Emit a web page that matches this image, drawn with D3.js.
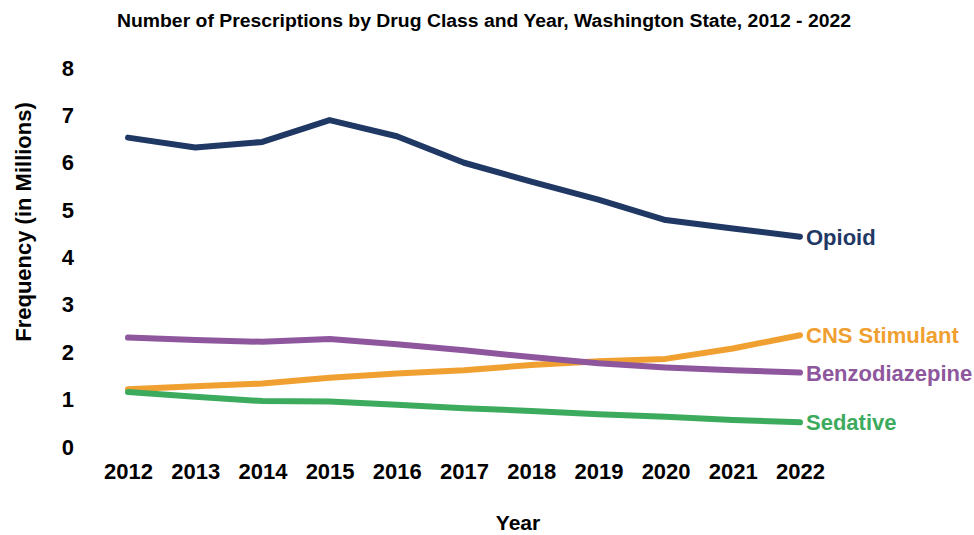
<!DOCTYPE html>
<html>
<head>
<script src="https://d3js.org/d3.v7.min.js"></script>
<style>
  body { margin: 0; background: #fff; }
  text { font-family: "Liberation Sans", Arial, sans-serif; font-weight: bold; }
</style>
</head>
<body>
<div id="chart"></div>
<script>
// data (millions of prescriptions)
var years = [2012, 2013, 2014, 2015, 2016, 2017, 2018, 2019, 2020, 2021, 2022];
var opioid = [6.53, 6.32, 6.44, 6.90, 6.56, 6.00, 5.60, 5.22, 4.79, 4.61, 4.44];
var benzodiazepine = [2.31, 2.26, 2.22, 2.28, 2.17, 2.04, 1.90, 1.77, 1.68, 1.62, 1.57];
var cnsStimulant = [1.22, 1.28, 1.34, 1.46, 1.55, 1.62, 1.73, 1.81, 1.86, 2.08, 2.36];
var sedative = [1.16, 1.06, 0.97, 0.96, 0.89, 0.82, 0.76, 0.69, 0.64, 0.57, 0.52];
var yTicks = [0, 1, 2, 3, 4, 5, 6, 7, 8];

var series = [
    {name: "Opioid", values: opioid, color: "#1f3864"},
    {name: "CNS Stimulant", values: cnsStimulant, color: "#f0a030"},
    {name: "Benzodiazepine", values: benzodiazepine, color: "#8e579d"},
    {name: "Sedative", values: sedative, color: "#3cab5e"}
];

var W = 974, H = 535;
var svg = d3.select("#chart").append("svg")
    .attr("width", W)
    .attr("height", H);

var x = d3.scaleLinear().domain([2012, 2022]).range([128, 800]);
var y = d3.scaleLinear().domain([0, 8]).range([447, 68]);

// title (condensed look, like the original)
svg.append("text")
    .attr("x", 484)
    .attr("y", 27)
    .attr("text-anchor", "middle")
    .attr("textLength", 734)
    .attr("lengthAdjust", "spacingAndGlyphs")
    .style("font-size", "18px")
    .text("Number of Prescriptions by Drug Class and Year, Washington State, 2012 - 2022");

// y axis (labels only)
var yAxis = svg.append("g")
    .attr("transform", "translate(80,0)")
    .call(d3.axisLeft(y).tickValues(yTicks).tickSize(0).tickPadding(6).tickFormat(d3.format("d")));
yAxis.select(".domain").remove();
yAxis.selectAll("text")
    .style("font-size", "22px")
    .attr("fill", "#000");

// x axis (labels only)
var xAxis = svg.append("g")
    .attr("transform", "translate(0,459)")
    .call(d3.axisBottom(x).tickValues(years).tickSize(0).tickPadding(4).tickFormat(d3.format("d")));
xAxis.select(".domain").remove();
xAxis.selectAll("text")
    .style("font-size", "22px")
    .attr("fill", "#000");

// axis titles
svg.append("text")
    .attr("transform", "translate(31,222) rotate(-90)")
    .attr("text-anchor", "middle")
    .style("font-size", "22px")
    .text("Frequency (in Millions)");

svg.append("text")
    .attr("x", 518)
    .attr("y", 530)
    .attr("text-anchor", "middle")
    .style("font-size", "21px")
    .text("Year");

var line = d3.line()
    .x(function(d, i) { return x(years[i]); })
    .y(function(d) { return y(d); });

series.forEach(function(s) {
    svg.append("path")
        .datum(s.values)
        .attr("d", line)
        .attr("fill", "none")
        .attr("stroke", s.color)
        .attr("stroke-width", 6)
        .attr("stroke-linecap", "round")
        .attr("stroke-linejoin", "round");

    svg.append("text")
        .attr("x", x(2022) + 6)
        .attr("y", y(s.values[s.values.length - 1]))
        .attr("dy", "0.36em")
        .attr("fill", s.color)
        .style("font-size", "22px")
        .text(s.name);
});
</script>
</body>
</html>
